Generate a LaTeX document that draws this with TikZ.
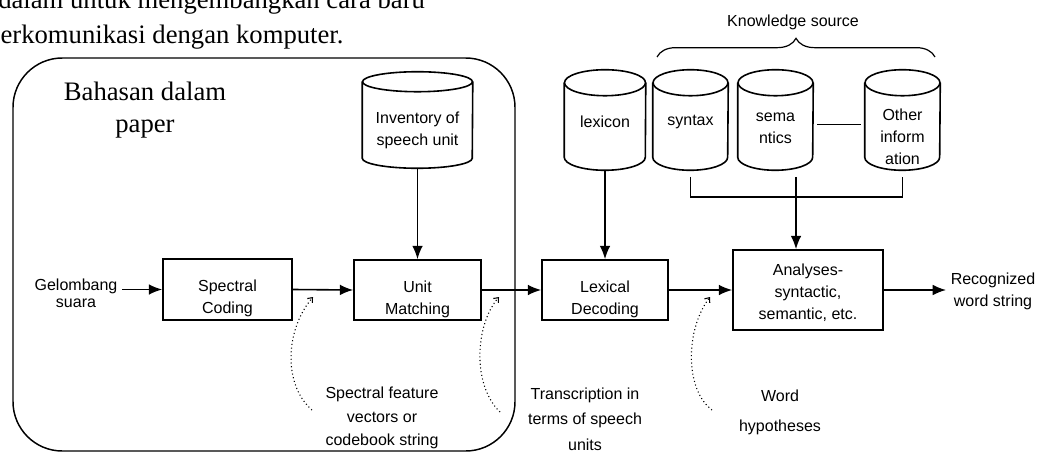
\documentclass[tikz,border=0pt]{standalone}
\usepackage{fontspec}
\setmainfont{Liberation Serif}
\setsansfont{Liberation Sans}
\usetikzlibrary{arrows.meta,decorations.pathreplacing}

% drum outline round a named node: #1 node, #2 half width, #3 end radius
\newcommand\drum[3]{%
  \draw [line width=1.2pt] ([yshift=-#3]#1.north) ellipse [x radius=#2, y radius=#3];
  \draw [line width=1.2pt] ([yshift=-#3]#1.north west) -- ([yshift=#3]#1.south west)
    arc [start angle=180, end angle=360, x radius=#2, y radius=#3] -- ([yshift=-#3]#1.north east);
}

\begin{document}
\begin{tikzpicture}[
	x=0.75pt, y=-0.75pt,
	font=\sffamily\fontsize{12}{16.5}\selectfont,
	box/.style={draw, line width=1.2pt, inner sep=0pt},
	store/.style={inner sep=0pt, minimum width=56.25pt, minimum height=75pt},
	tag/.style={align=center},
	page/.style={inner sep=0pt, font=\rmfamily\fontsize{20}{24}\selectfont},
	flow/.style={line width=1.2pt, -{Latex[length=10pt,width=8pt]}},
	hint/.style={dotted, line width=0.8pt, -{Straight Barb[length=3pt,width=5pt]}}]

\useasboundingbox (0,0) rectangle (1041,453);
\clip (0,0) rectangle (1041,453);

% Page text
\node [page, anchor=base west] (line1) at (-2,9) {\makebox[320pt][l]{dalam\hfill untuk\hfill mengembangkan\hfill cara\hfill baru}};
\node [page, anchor=base west] (line2) at (-13,44) {berkomunikasi dengan komputer.};

% Frame
\draw [line width=1.1pt, rounded corners=37pt] (13,58) rectangle (515,451);
\node [page, align=center] (topic) at (145,110) {Bahasan dalam\\paper};

% Stores
\node [store, minimum width=82.5pt, minimum height=72pt,
	label={[tag,yshift=-7.5pt]center:Inventory of\\speech unit}] (inv) at (417.5,120) {};
\node [store, minimum width=60.75pt, label={[tag,yshift=-1.5pt]center:lexicon}] (lexicon) at (605,120) {};
\node [store, label={[tag,yshift=-1.5pt]center:syntax}] (syntax) at (690.5,120) {};
\node [store, label={[tag,yshift=-6.4pt]center:sema\\ntics}] (semantics) at (775.5,120) {};
\node [store, label={[tag,yshift=-12.75pt]center:Other\\inform\\ation}] (other) at (902.5,120) {};
\drum{inv}{41.25pt}{7.5pt}
\drum{lexicon}{30.4pt}{9.75pt}
\drum{syntax}{28.1pt}{9.75pt}
\drum{semantics}{28.1pt}{9.75pt}
\drum{other}{28.1pt}{9.75pt}
\draw [line width=0.6pt, shorten <=3pt, shorten >=3pt] ([yshift=-3pt]semantics.east) -- ([yshift=-3pt]other.west);

% Knowledge source
\draw [line width=0.9pt, decorate, decoration={brace,amplitude=14pt}] (657,57) -- (935,57);
\node (ks-title) at (793,22) {Knowledge source};

% Blocks
\node [box, minimum width=96.75pt, minimum height=45.75pt,
	label={[tag,yshift=-6.75pt]center:Spectral\\Coding}] (spec) at (227.5,289.5) {};
\node [box, minimum width=95.25pt, minimum height=45pt,
	label={[tag,yshift=-6.75pt]center:Unit\\Matching}] (unit) at (417.5,290) {};
\node [box, minimum width=94.5pt, minimum height=45pt,
	label={[tag,yshift=-6.75pt]center:Lexical\\Decoding}] (lexdec) at (605,290) {};
\node [box, minimum width=112.5pt, minimum height=60pt,
	label={[tag,yshift=-2pt]center:Analyses-\\syntactic,\\semantic, etc.}] (anal) at (808,290) {};

% Ends
\node [tag, font=\sffamily\fontsize{12}{12.5}\selectfont] (gel) at (76,293) {Gelombang\\suara};
\node [tag] (rec) at (993,291) {Recognized\\word string};

% Flow
\draw [flow] (gel.east |- spec) -- (spec.west);
\draw [flow] (spec.east) -- (unit.west);
\draw [flow] (unit.east) -- (lexdec.west);
\draw [flow] (lexdec.east) -- (lexdec.east -| anal.west);
\draw [flow] (anal.east) -- (rec.west |- anal);
\draw [flow] (inv.south) -- (unit.north);
\draw [flow] (lexicon.south) -- (lexicon.south |- lexdec.north);

\coordinate (ks) at (796,197);
\draw [line width=1.2pt] ([yshift=-5pt]syntax.south) |- (ks) -| ([yshift=-5pt]other.south);
\draw [flow] ([yshift=-5pt]ks |- syntax.south) -- (ks |- anal.north);

% Notes
\node [tag, font=\sffamily\fontsize{12}{17.6}\selectfont] (feat) at (382,418) {Spectral feature\\vectors or\\codebook string};
\node [tag, font=\sffamily\fontsize{12}{19}\selectfont] (trans) at (585,419) {Transcription in\\terms of speech\\units};
\node [tag, font=\sffamily\fontsize{12}{22.5}\selectfont] (words) at (780,412) {Word\\hypotheses};

\coordinate (h1a) at (312,410);
\coordinate (h1b) at (313,297);
\coordinate (h2a) at (500,412);
\coordinate (h2b) at (499,297);
\coordinate (h3a) at (712,410);
\coordinate (h3b) at (710,297);
\draw [hint] (h1a) .. controls (283,385) and (285,330) .. (h1b);
\draw [hint] (h2a) .. controls (472,385) and (475,325) .. (h2b);
\draw [hint] (h3a) .. controls (685,390) and (685,330) .. (h3b);

\end{tikzpicture}
\end{document}
